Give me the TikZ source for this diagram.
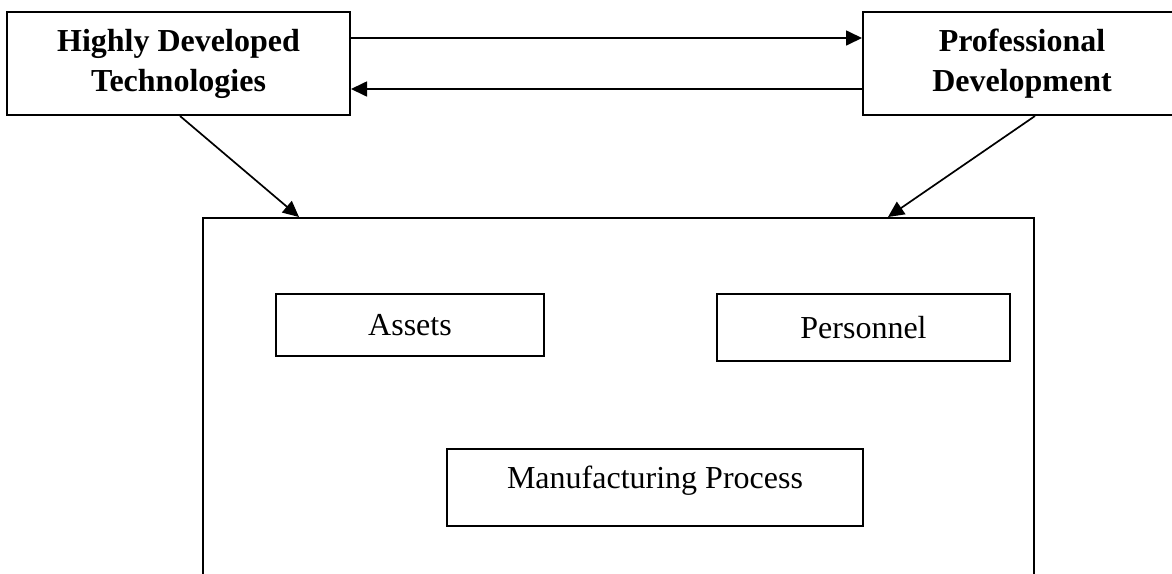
\documentclass[tikz,border=0pt]{standalone}
\usepackage{fontspec}
\setmainfont{Liberation Serif}
\usetikzlibrary{arrows.meta}
\begin{document}
\begin{tikzpicture}[x=1pt,y=-1pt,
  box/.style={draw=black,line width=2pt,rectangle,inner sep=0pt,align=center,
    font=\fontsize{32}{40}\selectfont},
  headbox/.style={box,font=\fontsize{32}{40}\selectfont\bfseries},
  arr/.style={draw=black,line width=1.7pt,-{Triangle[length=16pt,width=15pt]}}]
\path[use as bounding box,clip] (0,0) rectangle (1172,573);
\node[headbox,minimum width=343pt,minimum height=103pt] (hdt) at (178.5,63.5) {Highly Developed\\Technologies};
\node[headbox,minimum width=318pt,minimum height=103pt] (pd) at (1022,63.5) {Professional\\Development};
\node[box,minimum width=831pt,minimum height=402pt] (big) at (618.5,419) {};
\node[box,minimum width=268pt,minimum height=62pt] (assets) at (410,325) {Assets};
\node[box,minimum width=293pt,minimum height=67pt] (pers) at (863.5,327.5) {Personnel};
\node[box,minimum width=416pt,minimum height=77pt,text depth=20pt] (mp) at (655,487.5) {Manufacturing Process};
\draw[arr] ([yshift=25.5pt]hdt.east) -- ([yshift=25.5pt]pd.west);
\draw[arr] ([yshift=-25.5pt]pd.west) -- ([yshift=-25.5pt]hdt.east);
\draw[arr] ([xshift=1.5pt]hdt.south) -- ([xshift=-319.5pt]big.north);
\draw[arr] ([xshift=13pt]pd.south) -- ([xshift=269.5pt]big.north);
\end{tikzpicture}
\end{document}
